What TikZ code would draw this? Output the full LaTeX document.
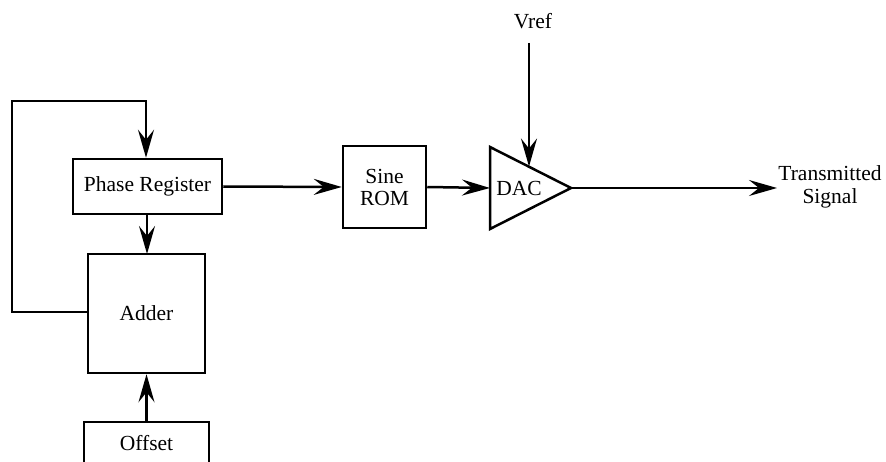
\documentclass[tikz,border=0pt]{standalone}
\usepackage{fontspec}
\setmainfont{Liberation Serif}
\usetikzlibrary{arrows.meta}
\begin{document}
\begin{tikzpicture}[x=1pt,y=-1pt,
  blk/.style={draw,line width=2.5pt,inner sep=0pt,font=\fontsize{21.5}{24}\selectfont},
  lbl/.style={font=\fontsize{21.5}{24}\selectfont,inner sep=0pt,align=center},
  wire/.style={line width=2.5pt},
  flow/.style={wire,-{Stealth[length=28pt,width=16pt,inset=10pt]}}]
\useasboundingbox (0,0) rectangle (886,462);

% blocks
\node[blk,minimum width=149pt,minimum height=55pt] (preg) at (147.5,186.5) {Phase Register};
\node[blk,minimum width=117pt,minimum height=119pt] (adder) at (146.5,313.5) {Adder};
\node[blk,minimum width=125pt,minimum height=42pt] (offset) at (146.5,443) {Offset};
\node[blk,minimum width=83pt,minimum height=82pt,align=center] (rom) at (384.5,187) {Sine\\[-2pt]ROM};

% DAC triangle
\coordinate (dacin) at (490,188);
\coordinate (dacout) at (571,188);
\coordinate (dactop) at (490,147);
\coordinate (dacbot) at (490,229);
\draw[wire,line join=miter] (dactop) -- (dacout) -- (dacbot) -- cycle;
\node[lbl] (dac) at (519,188) {DAC};
\coordinate (dacref) at (529,166.5);

% labels
\node[lbl] (vref) at (533,21) {Vref};
\node[lbl] (tx) at (830,187) {Transmitted\\[-1pt]Signal};

% feedback loop
\coordinate (fbl) at (12,312);
\coordinate (fbt) at (12,101);
\coordinate (fbr) at (146,101);
\draw[flow] (adder.west|-fbl) -- (fbl) -- (fbt) -- (fbr) -- (fbr|-preg.north);

% signal path
\draw[flow] (147,214) -- (147,254);
\draw[flow] (offset.north) -- (adder.south);
\draw[flow] (preg.east) -- (rom.west);
\draw[flow] (rom.east) -- (dacin);
\draw[flow] (529,43) -- (dacref);
\draw[flow] (dacout) -- (777,188);
\end{tikzpicture}
\end{document}
